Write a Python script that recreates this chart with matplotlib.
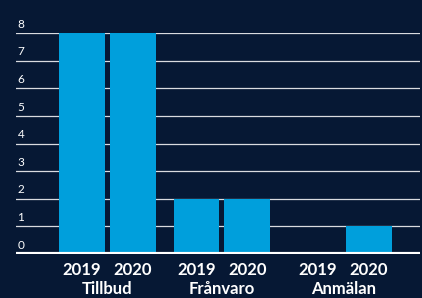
import numpy as np
import matplotlib.pyplot as plt

categories = ["Tillbud", "Frånvaro", "Anmälan"]
years = ["2019", "2020"]
values_2019 = [8, 2, 0]
values_2020 = [8, 2, 1]
yticks = [0, 1, 2, 3, 4, 5, 6, 7, 8]

bg = "#061834"
bar_color = "#009fdc"

fig = plt.figure(figsize=(4.22, 2.98), dpi=100, facecolor=bg)
ax = fig.add_axes([16/422, 44/298, 404/422, 221/298])
ax.set_facecolor(bg)

# groups are not quite evenly spaced in the original
group_x = np.array([0, 2.25, 4.64])
x19 = group_x - 0.5
x20 = group_x + 0.5

for y in yticks:
    if y > 0:
        ax.axhline(y, color="white", lw=0.9, alpha=0.85, zorder=1)
    ax.text(-1.77, y + 0.12, str(y), color="white", fontsize=8.5,
            family="Lato", ha="left", va="bottom", zorder=4)

ax.bar(x19, values_2019, width=0.9, color=bar_color, zorder=2)
ax.bar(x20, values_2020, width=0.9, color=bar_color, zorder=2)
ax.axhline(0, color="white", lw=3, zorder=3, xmax=0.995)

for i, cat in enumerate(categories):
    ax.text(x19[i], -0.3, years[0], color="white", fontsize=12, family="Lato",
            weight="bold", ha="center", va="top")
    ax.text(x20[i], -0.3, years[1], color="white", fontsize=12, family="Lato",
            weight="bold", ha="center", va="top")
    ax.text(group_x[i], -0.98, cat, color="white", fontsize=12, family="Lato",
            weight="bold", ha="center", va="top")

ax.set_xlim(-1.8, 6.15)
ax.set_ylim(0, 8)
ax.axis("off")

fig.savefig("out.png", dpi=100, facecolor=bg)
